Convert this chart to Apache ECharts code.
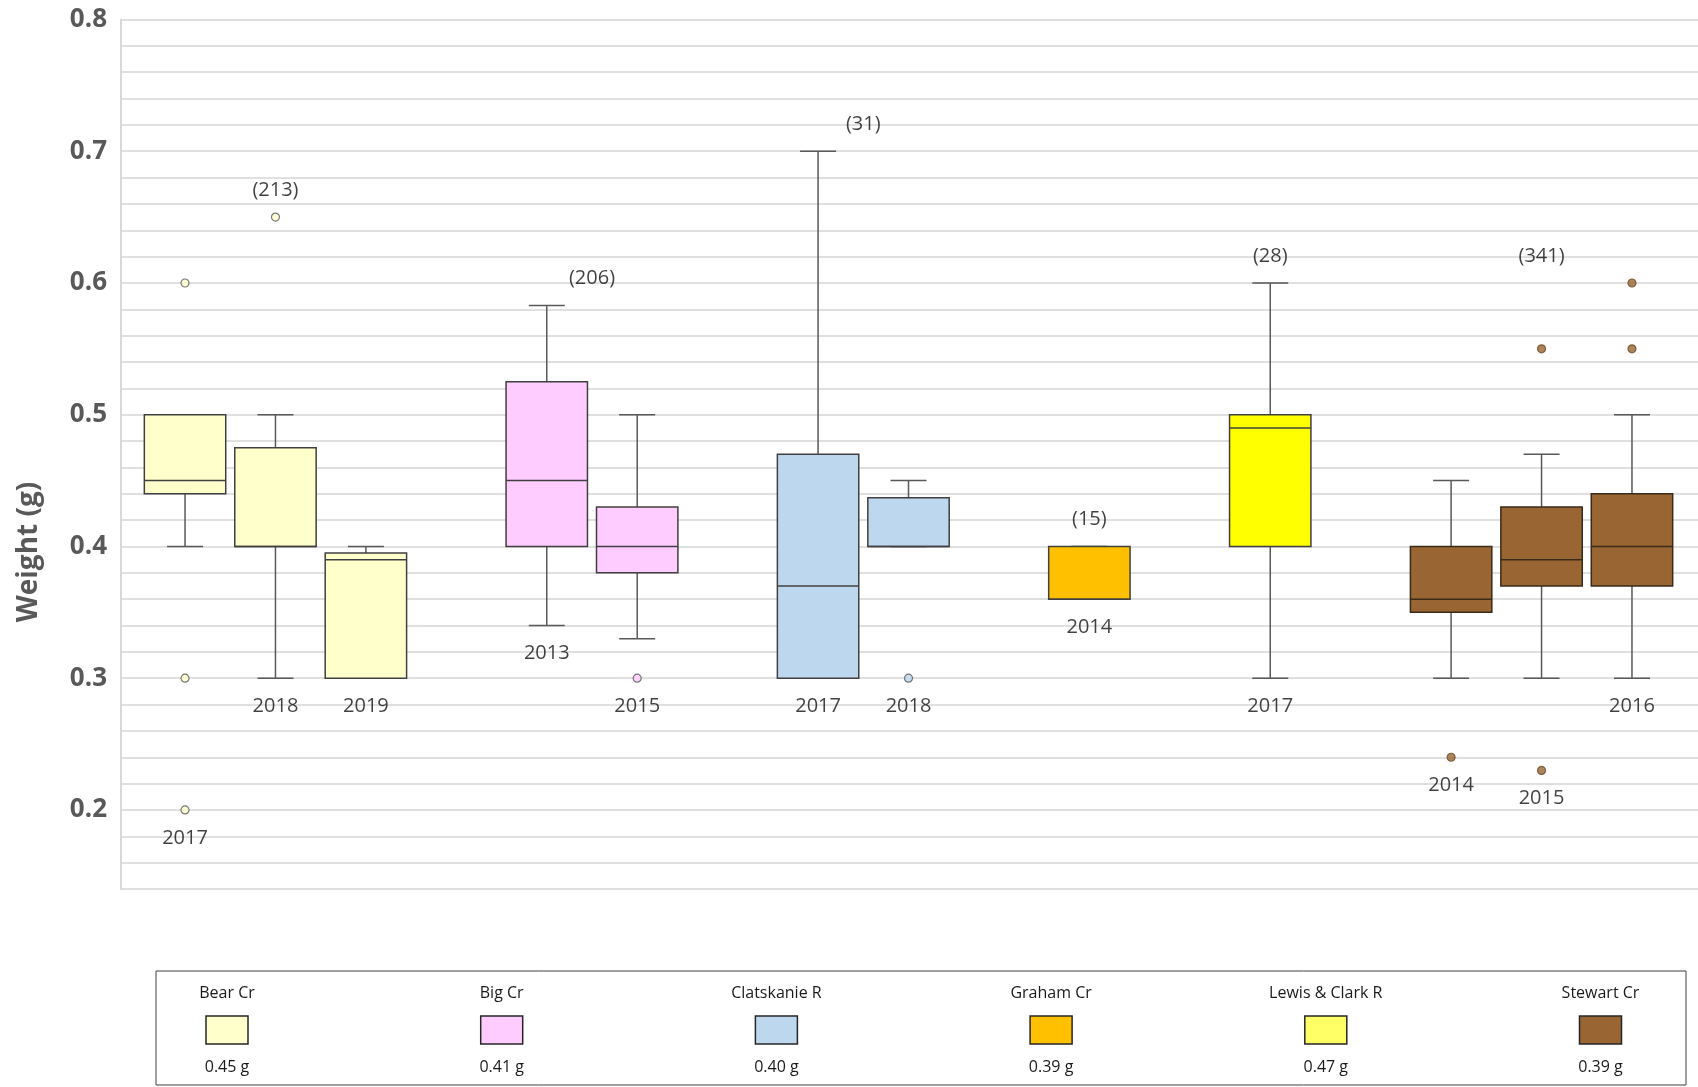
<!DOCTYPE html>
<html>
<head>
<meta charset="utf-8">
<script src="https://cdn.jsdelivr.net/npm/echarts@6/dist/echarts.min.js"></script>
<style>
  html, body { margin: 0; padding: 0; background: #fff; }
  #chart { width: 1698px; height: 1087px; }
</style>
</head>
<body>
<div id="chart"></div>
<script>
// rivers, in legend order
const rivers = ['Bear Cr', 'Big Cr', 'Clatskanie R', 'Graham Cr', 'Lewis & Clark R', 'Stewart Cr']
const riverMeans = [0.45, 0.41, 0.40, 0.39, 0.47, 0.39]
const riverCounts = [213, 206, 31, 15, 28, 341]

// one entry per box
const boxRiver  = [0, 0, 0, 1, 1, 2, 2, 3, 4, 5, 5, 5]
const boxYear   = ['2017', '2018', '2019', '2013', '2015', '2017', '2018', '2014', '2017', '2014', '2015', '2016']
const boxLow    = [0.40, 0.30, 0.30, 0.34, 0.33, 0.30, 0.40, 0.36, 0.30, 0.30, 0.30, 0.30]
const boxQ1     = [0.44, 0.40, 0.30, 0.40, 0.38, 0.30, 0.40, 0.36, 0.40, 0.35, 0.37, 0.37]
const boxMedian = [0.45, 0.40, 0.39, 0.45, 0.40, 0.37, 0.40, 0.36, 0.49, 0.36, 0.39, 0.40]
const boxQ3     = [0.50, 0.475, 0.395, 0.525, 0.43, 0.47, 0.437, 0.40, 0.50, 0.40, 0.43, 0.44]
const boxHigh   = [0.50, 0.50, 0.40, 0.583, 0.50, 0.70, 0.45, 0.40, 0.60, 0.45, 0.47, 0.50]

// outliers: index of the box they belong to, and value
const outlierBox   = [0, 0, 0, 1, 4, 6, 9, 10, 10, 11, 11]
const outlierValue = [0.60, 0.30, 0.20, 0.65, 0.30, 0.30, 0.24, 0.55, 0.23, 0.60, 0.55]

// colours
const boxColors = ['#FFFFCC', '#FFCCFF', '#BDD7EE', '#FFC000', '#FFFF00', '#996633']
const legendColors = ['#FFFFCC', '#FFCCFF', '#BDD7EE', '#FFC000', '#FFFF66', '#996633']

// x slot of every box, one empty slot between rivers
const boxSlot = []
let slot = 0
boxRiver.forEach((r, i) => {
  if (i > 0 && r !== boxRiver[i - 1]) slot++
  boxSlot.push(slot)
  slot++
})

const boxData = boxSlot.map((x, i) => [x, boxLow[i], boxQ1[i], boxMedian[i], boxQ3[i], boxHigh[i], boxRiver[i]])

const outlierData = outlierBox.map((b, i) => {
  const r = boxRiver[b]
  return {
    value: [boxSlot[b], outlierValue[i]],
    itemStyle: {
      color: boxColors[r],
      borderColor: r === 5 ? '#6e4a25' : '#595959',
      borderWidth: 1.2
    }
  }
})

// year label sits under the lowest mark of each box
const yearData = boxSlot.map((x, i) => {
  let low = boxLow[i]
  outlierBox.forEach((b, k) => { if (b === i) low = Math.min(low, outlierValue[k]) })
  return [x, low]
})

// sample size sits above the highest mark of each river
const countData = rivers.map((name, r) => {
  const idx = boxRiver.map((b, i) => b === r ? i : -1).filter(i => i >= 0)
  let top = Math.max(...idx.map(i => boxHigh[i]))
  outlierBox.forEach((b, k) => { if (boxRiver[b] === r) top = Math.max(top, outlierValue[k]) })
  const cx = idx.reduce((s, i) => s + boxSlot[i], 0) / idx.length
  return [cx, top]
})

function isMajor(v) {
  return Math.abs(v * 10 - Math.round(v * 10)) < 1e-6
}

function renderBox(params, api) {
  const x = api.value(0)
  const r = api.value(6)
  const low = api.coord([x, api.value(1)])
  const q1 = api.coord([x, api.value(2)])
  const med = api.coord([x, api.value(3)])
  const q3 = api.coord([x, api.value(4)])
  const high = api.coord([x, api.value(5)])
  const half = api.size([1, 0])[0] * 0.45
  const cap = 18
  const cx = low[0]
  const whisker = { stroke: '#595959', lineWidth: 1.5 }
  const edge = r === 5 ? '#3a2a18' : '#404040'
  return {
    type: 'group',
    children: [
      { type: 'line', shape: { x1: cx, y1: high[1], x2: cx, y2: q3[1] }, style: whisker },
      { type: 'line', shape: { x1: cx, y1: q1[1], x2: cx, y2: low[1] }, style: whisker },
      { type: 'line', shape: { x1: cx - cap, y1: high[1], x2: cx + cap, y2: high[1] }, style: whisker },
      { type: 'line', shape: { x1: cx - cap, y1: low[1], x2: cx + cap, y2: low[1] }, style: whisker },
      {
        type: 'rect',
        shape: { x: cx - half, y: q3[1], width: half * 2, height: q1[1] - q3[1] },
        style: { fill: boxColors[r], stroke: edge, lineWidth: 1.5 }
      },
      { type: 'line', shape: { x1: cx - half, y1: med[1], x2: cx + half, y2: med[1] }, style: { stroke: edge, lineWidth: 1.5 } }
    ]
  }
}

// custom legend: name / swatch / mean weight
const legendItems = [{
  type: 'rect',
  shape: { x: 156, y: 971, width: 1530, height: 114 },
  style: { fill: 'none', stroke: '#404040', lineWidth: 1 }
}]
rivers.forEach((name, i) => {
  const cx = 227 + i * 274.7
  legendItems.push({
    type: 'text', x: cx, y: 993,
    style: { text: name, align: 'center', verticalAlign: 'middle', font: '16px "Open Sans"', fill: '#1a1a1a' }
  })
  legendItems.push({
    type: 'rect',
    shape: { x: cx - 21, y: 1016, width: 42, height: 28 },
    style: { fill: legendColors[i], stroke: '#262626', lineWidth: 1.5 }
  })
  legendItems.push({
    type: 'text', x: cx, y: 1067,
    style: { text: riverMeans[i].toFixed(2) + ' g', align: 'center', verticalAlign: 'middle', font: '16px "Open Sans"', fill: '#1a1a1a' }
  })
})

const chart = echarts.init(document.getElementById('chart'))
chart.setOption({
  animation: false,
  backgroundColor: '#fff',
  grid: { left: 121, right: 0, top: 19.5, bottom: 198 },
  xAxis: { type: 'value', min: -0.708, max: 16.73, show: false },
  yAxis: {
    type: 'value',
    min: 0.14,
    max: 0.8,
    interval: 0.02,
    axisLine: { show: true, onZero: false, lineStyle: { color: '#d9d9d9', width: 2 } },
    axisTick: { show: false },
    splitLine: { lineStyle: { color: '#e0e0e0', width: 2 } },
    axisLabel: {
      formatter: v => isMajor(v) ? v.toFixed(1) : '',
      fontFamily: 'Open Sans',
      fontSize: 26,
      fontWeight: 'bold',
      color: '#595959',
      margin: 14
    }
  },
  graphic: [
    {
      type: 'text', x: 29, y: 552, rotation: Math.PI / 2,
      style: { text: 'Weight (g)', align: 'center', verticalAlign: 'middle', font: 'bold 28px "Open Sans"', fill: '#595959' }
    },
    ...legendItems
  ],
  series: [
    {
      type: 'custom',
      renderItem: renderBox,
      data: boxData,
      encode: { x: 0, y: [1, 2, 3, 4, 5] },
      z: 2
    },
    {
      type: 'scatter',
      data: outlierData,
      symbolSize: 8,
      z: 3
    },
    {
      type: 'scatter',
      data: yearData,
      symbolSize: 0,
      silent: true,
      label: {
        show: true,
        position: 'bottom',
        distance: 18,
        formatter: p => boxYear[p.dataIndex],
        fontFamily: 'Open Sans',
        fontSize: 20,
        color: '#111'
      },
      z: 4
    },
    {
      type: 'scatter',
      data: countData,
      symbolSize: 0,
      silent: true,
      label: {
        show: true,
        position: 'top',
        distance: 17,
        formatter: p => '(' + riverCounts[p.dataIndex] + ')',
        fontFamily: 'Open Sans',
        fontSize: 20,
        color: '#111'
      },
      z: 4
    }
  ]
})
</script>
</body>
</html>
